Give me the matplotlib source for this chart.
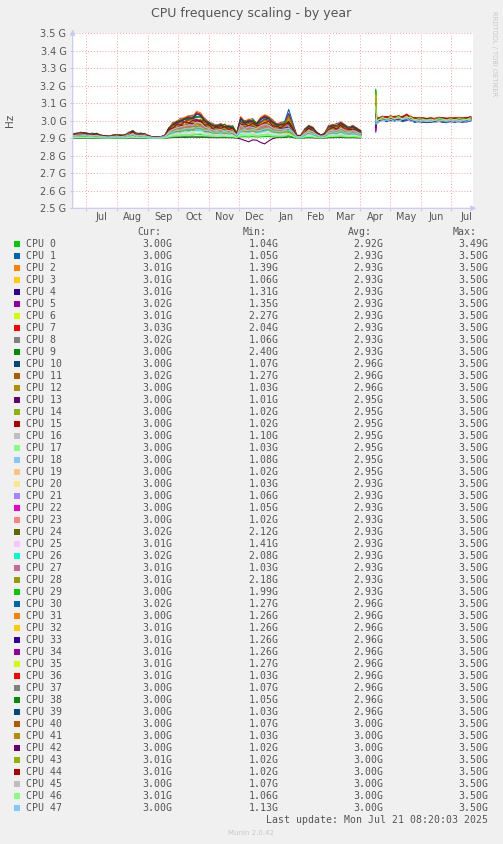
import datetime as dt
import numpy as np
import matplotlib
matplotlib.use('Agg')
import matplotlib.pyplot as plt
from matplotlib.patches import Rectangle, FancyArrowPatch

W, H = 503, 844

# munin default palette, cycles after 29 entries
palette = ['#00CC00', '#0066B3', '#FF8000', '#FFCC00', '#330099', '#990099',
           '#CCFF00', '#FF0000', '#808080', '#008F00', '#00487D', '#B35A00',
           '#B38F00', '#6B006B', '#8FB300', '#B30000', '#BEBEBE', '#80FF80',
           '#80C9FF', '#FFC080', '#FFE680', '#AA80FF', '#EE00CC', '#FF8080',
           '#666600', '#FFBFFF', '#00FFCC', '#CC6699', '#999900']

start = dt.datetime(2024, 6, 17, 8)
months = [dt.datetime(2024, m, 1) for m in range(7, 13)] + \
         [dt.datetime(2025, m, 1) for m in range(1, 9)]

# sample days (days since start), first block before the gap, second after
days1 = list(range(0, 289, 4))
days2 = [303, 304] + list(range(306, 399, 4))

# busy profiles (MHz)
prof1_A = [2925, 2930, 2932, 2933, 2928, 2925, 2928, 2918, 2915, 2912,
           2918, 2920, 2916, 2920, 2930, 2945, 2925, 2930, 2925, 2915,
           2908, 2905, 2910, 2915, 2960, 2985, 3000, 3010, 3020, 3030,
           3025, 3055, 3045, 3010, 2995, 2980, 2975, 2985, 2970, 2975,
           2965, 2930, 3025, 2995, 3010, 3005, 2990, 3020, 3035, 3025,
           3000, 2985, 2985, 2990, 2995, 2960, 2915, 2915, 2950, 2975,
           2965, 2935, 2920, 2925, 2970, 2980, 2975, 2995, 2980, 2960,
           2975, 2960, 2945]
prof1_B = [2922, 2928, 2935, 2930, 2925, 2930, 2922, 2920, 2912, 2916,
           2915, 2922, 2918, 2917, 2935, 2940, 2930, 2926, 2928, 2912,
           2906, 2907, 2908, 2918, 2950, 2990, 2995, 3015, 3012, 3028,
           3032, 3025, 3020, 3015, 2990, 2985, 2970, 2980, 2978, 2968,
           2970, 2925, 3010, 3000, 3005, 3012, 2985, 3010, 3030, 3020,
           3005, 2980, 2990, 2995, 3065, 2990, 2918, 2912, 2955, 2970,
           2960, 2930, 2918, 2930, 2975, 2972, 2985, 2990, 2975, 2965,
           2970, 2955, 2940]
prof1_C = [2928, 2924, 2930, 2936, 2922, 2927, 2932, 2916, 2918, 2910,
           2920, 2916, 2922, 2915, 2925, 2950, 2922, 2932, 2920, 2918,
           2905, 2910, 2906, 2912, 2965, 2978, 3005, 3002, 3025, 3018,
           3035, 3030, 3040, 3000, 3005, 2975, 2985, 2975, 2990, 2965,
           2980, 2935, 3000, 3010, 2995, 3015, 2995, 3000, 3020, 3030,
           2995, 2990, 2980, 3000, 3030, 2980, 2920, 2918, 2945, 2980,
           2955, 2940, 2915, 2935, 2965, 2985, 2970, 3000, 2970, 2970,
           2965, 2965, 2935]
# after the gap (days 304..398)
prof2_A = [3005, 3015, 3018, 3020, 3015, 3022, 3020, 3018, 3035, 3015,
           3012, 3010, 3008, 3010, 3008, 3010, 3012, 3008, 3012, 3010,
           3012, 3010, 3008, 3015, 3015]
prof2_B = [3000, 3010, 3022, 3012, 3024, 3015, 3025, 3012, 3020, 3022,
           3008, 3014, 3012, 3006, 3013, 3007, 3015, 3012, 3006, 3014,
           3008, 3015, 3012, 3010, 3020]
prof2_C = [2995, 3008, 3015, 3018, 3010, 3020, 3012, 3022, 3028, 3010,
           3015, 3006, 3013, 3009, 3012, 3004, 3010, 3015, 3009, 3006,
           3013, 3007, 3014, 3012, 3018]
profiles = {'A': (prof1_A, prof2_A), 'B': (prof1_B, prof2_B),
            'C': (prof1_C, prof2_C)}

# per cpu: profile, share of load above 2.9 GHz, offset and spike after gap
cpu_prof = 'ABCABCABCA' 'BCABCBACBA' 'CBACBACBAC' 'BACABCABCA' 'BCABCABC'
cpu_load = [0.15, 0.70, 0.60, 0.55, 0.50, 0.45, 0.30, 0.65, 0.50, 0.35,
            0.85, 0.75, 0.50, 0.05, 0.60, 0.35, 0.30, 0.20, 0.40, 0.45,
            0.30, 0.55, 0.60, 0.50, 0.70, 0.25, 0.35, 0.55, 0.40, 0.08,
            1.00, 1.00, 0.80, 0.90, 0.85, 0.75, 0.95, 0.70, 0.90, 0.90,
            0.80, 0.50, 0.65, 0.70, 0.75, 0.60, 0.15, 0.45]
cpu_off2 = [-5, -10, 3, -2, -13, 0, -3, 5, -1, -8, -15, 1, -7, -11, -4, -1,
            -9, -6, -14, -3, -2, -12, -5, -7, 2, -4, 1, -8, 0, -6, -17, -1,
            -3, -2, -11, 2, 4, -7, -5, -16, 0, -9, -13, 1, 3, -8, -3, -14]
cpu_spike = [3180, 3060, 3120, 3150, 3020, 2940, 3100, 3080, 3050, 3170,
             2990, 3090, 3130, 2960, 3110, 3040, 3010, 3060, 2980, 3070,
             3120, 3000, 2935, 3030, 3140, 3050, 3090, 2950, 3160, 3175,
             3020, 3080, 3150, 3000, 2945, 3140, 3060, 3030, 3100, 2970,
             3070, 3125, 2960, 3150, 3040, 3010, 3080, 3000]
# cpu 13 dips below 2.9 GHz in December
dip_days = [168, 172, 176, 180, 184, 188, 192, 196, 200]
dip_mhz = [2896, 2888, 2880, 2891, 2889, 2876, 2868, 2885, 2898]

# legend table
cur = [3.00, 3.00, 3.01, 3.01, 3.01, 3.02, 3.01, 3.03, 3.02, 3.00,
       3.00, 3.02, 3.00, 3.00, 3.00, 3.00, 3.00, 3.00, 3.00, 3.00,
       3.00, 3.00, 3.00, 3.00, 3.02, 3.01, 3.02, 3.01, 3.01, 3.00,
       3.02, 3.00, 3.01, 3.01, 3.01, 3.01, 3.01, 3.00, 3.00, 3.00,
       3.00, 3.00, 3.00, 3.01, 3.01, 3.00, 3.01, 3.00]
mins = [1.04, 1.05, 1.39, 1.06, 1.31, 1.35, 2.27, 2.04, 1.06, 2.40,
        1.07, 1.27, 1.03, 1.01, 1.02, 1.02, 1.10, 1.03, 1.08, 1.02,
        1.03, 1.06, 1.05, 1.02, 2.12, 1.41, 2.08, 1.03, 2.18, 1.99,
        1.27, 1.26, 1.26, 1.26, 1.26, 1.27, 1.03, 1.07, 1.05, 1.03,
        1.07, 1.03, 1.02, 1.02, 1.02, 1.07, 1.06, 1.13]
avgs = [2.92] + [2.93] * 9 + [2.96] * 3 + [2.95] * 7 + [2.93] * 10 + \
       [2.96] * 10 + [3.00] * 8
maxs = [3.49] + [3.50] * 47

txt = '#555555'
lav = '#C8C8F4'
grid_c = '#F0A0A0'

fig = plt.figure(figsize=(W / 100, H / 100), dpi=100, facecolor='#F0F0F0')
ax = fig.add_axes([72.7 / W, 1 - 208.3 / H, 400.6 / W, 175 / H])
ax.set_facecolor('white')

for i in range(48):
    p1, p2 = profiles[cpu_prof[i]]
    y1 = 2900 + cpu_load[i] * (np.array(p1, float) - 2900)
    if i == 13:
        for d, v in zip(dip_days, dip_mhz):
            y1[d // 4] = v
    y2 = np.array([cpu_spike[i]] + [v + cpu_off2[i] for v in p2], float)
    x = days1 + [np.nan] + days2
    y = np.concatenate([y1, [np.nan], y2]) / 1000
    ax.plot(x, y, color=palette[i % len(palette)], lw=0.8, zorder=3)

ax.set_xlim(0, 400.6)
ax.set_ylim(2.5, 3.5)

mstart = [(m - start).total_seconds() / 86400 for m in months]
ax.set_xticks(mstart[:-1])
ax.set_xticklabels([])
mids = [(a + b) / 2 for a, b in zip(mstart[:-1], mstart[1:])]
ax.set_xticks(mids, minor=True)
ax.set_xticklabels([m.strftime('%b') for m in months[:-1]], minor=True,
                   fontsize=7, color=txt)
yt = np.round(np.arange(2.5, 3.51, 0.1), 1)
ax.set_yticks(yt)
ax.set_yticklabels(['%.1f G' % v for v in yt], fontsize=7, color=txt)
ax.tick_params(axis='both', which='major', length=2.5, width=0.8,
               color=lav, pad=2)
ax.tick_params(axis='x', which='minor', length=0, pad=3)

for v in mstart[:-1]:
    ax.axvline(v, color=grid_c, lw=0.7, ls=(0, (1, 2)), zorder=1)
for v in yt:
    ax.axhline(v, color=grid_c, lw=0.7, ls=(0, (1, 2)), zorder=1)

for s in ax.spines.values():
    s.set_visible(False)


# axis lines with arrows, in figure pixels
def fx(px):
    return px / W


def fy(py):
    return 1 - py / H


fig.add_artist(FancyArrowPatch(
    (fx(70), fy(208.3)), (fx(479), fy(208.3)), transform=fig.transFigure,
    arrowstyle='-|>,head_length=3,head_width=1.6', color=lav, lw=0.8))
fig.add_artist(FancyArrowPatch(
    (fx(72.7), fy(211)), (fx(72.7), fy(27)), transform=fig.transFigure,
    arrowstyle='-|>,head_length=3,head_width=1.6', color=lav, lw=0.8))

fig.text(fx(251), fy(14), 'CPU frequency scaling - by year', fontsize=9,
         color=txt, ha='center', va='center')
fig.text(fx(10), fy(120), 'Hz', fontsize=7.5, color=txt, rotation=90,
         ha='center', va='center')
fig.text(fx(494), fy(54), 'RRDTOOL / TOBI OETIKER', fontsize=4.8,
         color='#C8C8C8', rotation=270, ha='center', va='center')

mono = 'DejaVu Sans Mono'
fs = 7.1
for label, lx in [('Cur:', 137.7), ('Min:', 242.7), ('Avg:', 348.3),
                  ('Max:', 452.7)]:
    fig.text(fx(lx), fy(232.3), label, family=mono, fontsize=fs,
             color=txt, va='center')
for i in range(48):
    yc = 244.3 + 12 * i
    fig.add_artist(Rectangle((fx(14), fy(yc + 3)), 6 / W, 6 / H,
                             transform=fig.transFigure,
                             color=palette[i % len(palette)], lw=0))
    fig.text(fx(26), fy(yc), 'CPU %d' % i, family=mono, fontsize=fs,
             color=txt, va='center')
    for val, rx in [(cur[i], 172.5), (mins[i], 278.5), (avgs[i], 383.5),
                    (maxs[i], 488.5)]:
        fig.text(fx(rx), fy(yc), '%.2fG' % val, family=mono, fontsize=fs,
                 color=txt, va='center', ha='right')

fig.text(fx(488.5), fy(820), 'Last update: Mon Jul 21 08:20:03 2025',
         family=mono, fontsize=fs, color=txt, va='center', ha='right')
fig.text(fx(251), fy(833), 'Munin 2.0.42', fontsize=5, color='#C8C8C8',
         ha='center', va='center')

fig.savefig('out.png', dpi=100, facecolor=fig.get_facecolor())
